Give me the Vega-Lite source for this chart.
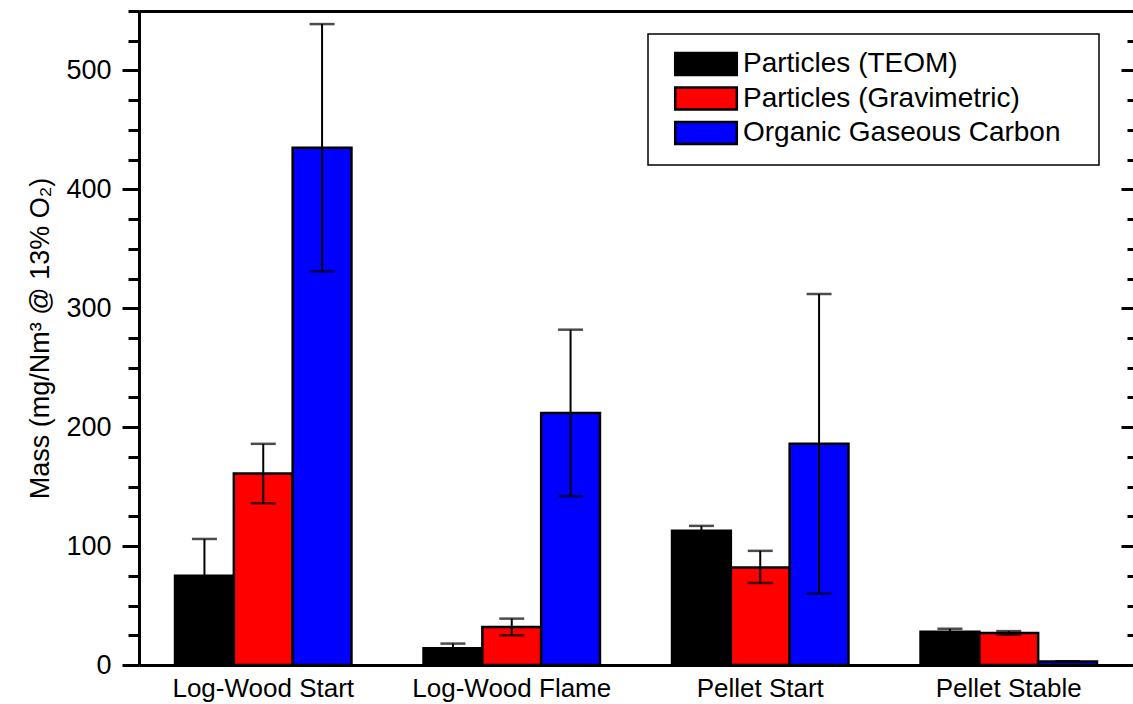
{
  "$schema": "https://vega.github.io/schema/vega-lite/v6.json",
  "width": 994,
  "height": 654,
  "autosize": {"type": "none"},
  "padding": {"left": 139, "top": 11, "right": 0, "bottom": 39},
  "background": "white",
  "config": {
    "view": {"stroke": null},
    "font": "Liberation Sans",
    "legend": {"strokeWidth": 1.5}
  },
  "data": {
    "values": [
      {"cond": "Log-Wood Start", "series": "Particles (TEOM)", "value": 75, "lo": 44, "hi": 106},
      {"cond": "Log-Wood Start", "series": "Particles (Gravimetric)", "value": 161, "lo": 136, "hi": 186},
      {"cond": "Log-Wood Start", "series": "Organic Gaseous Carbon", "value": 435, "lo": 331, "hi": 539},
      {"cond": "Log-Wood Flame", "series": "Particles (TEOM)", "value": 14, "lo": 10, "hi": 18},
      {"cond": "Log-Wood Flame", "series": "Particles (Gravimetric)", "value": 32, "lo": 25, "hi": 39},
      {"cond": "Log-Wood Flame", "series": "Organic Gaseous Carbon", "value": 212, "lo": 142, "hi": 282},
      {"cond": "Pellet Start", "series": "Particles (TEOM)", "value": 113, "lo": 109, "hi": 117},
      {"cond": "Pellet Start", "series": "Particles (Gravimetric)", "value": 82, "lo": 69, "hi": 96},
      {"cond": "Pellet Start", "series": "Organic Gaseous Carbon", "value": 186, "lo": 60, "hi": 312},
      {"cond": "Pellet Stable", "series": "Particles (TEOM)", "value": 28, "lo": 25.5, "hi": 30.5},
      {"cond": "Pellet Stable", "series": "Particles (Gravimetric)", "value": 27, "lo": 25.5, "hi": 28.5},
      {"cond": "Pellet Stable", "series": "Organic Gaseous Carbon", "value": 3, "lo": 3, "hi": 3}
    ]
  },
  "layer": [
    {
      "mark": {"type": "bar", "stroke": "black", "strokeWidth": 2.5},
      "encoding": {
        "x": {
          "field": "cond", "type": "nominal",
          "sort": ["Log-Wood Start", "Log-Wood Flame", "Pellet Start", "Pellet Stable"],
          "scale": {"paddingInner": 0.29, "paddingOuter": 0.145},
          "axis": {"orient": "bottom", "title": null, "labelAngle": 0, "labelFontSize": 26, "labelColor": "black", "labelLimit": 0, "ticks": false, "tickSize": 0, "domainWidth": 3, "domainColor": "black", "labelPadding": 10}
        },
        "xOffset": {
          "field": "series", "type": "nominal",
          "sort": ["Particles (TEOM)", "Particles (Gravimetric)", "Organic Gaseous Carbon"],
          "scale": {"paddingInner": 0, "paddingOuter": 0}
        },
        "y": {
          "field": "value", "type": "quantitative",
          "scale": {"domain": [0, 550], "nice": false},
          "axis": {
            "orient": "left",
            "values": [0, 25, 50, 75, 100, 125, 150, 175, 200, 225, 250, 275, 300, 325, 350, 375, 400, 425, 450, 475, 500, 525, 550],
            "labelExpr": "datum.value % 100 === 0 ? datum.label : ''",
            "tickSize": {"condition": {"test": "datum.value % 100 === 0", "value": 17}, "value": 11},
            "tickWidth": 3, "tickColor": "black",
            "domainWidth": 3, "domainColor": "black",
            "labelFontSize": 27, "labelColor": "black", "labelPadding": 11, "labelFlush": false, "labelOverlap": false,
            "grid": false,
            "title": "Mass (mg/Nm³ @ 13% O₂)",
            "titleFontSize": 27, "titleFontWeight": "normal", "titleColor": "black", "titlePadding": 11
          }
        },
        "color": {
          "field": "series", "type": "nominal",
          "scale": {"domain": ["Particles (TEOM)", "Particles (Gravimetric)", "Organic Gaseous Carbon"], "range": ["#000000", "#ff0000", "#0000ff"]},
          "legend": {
            "orient": "none", "legendX": 509, "legendY": 23,
            "title": "\u00a0", "titleOrient": "right", "titlePadding": 22, "titleFontSize": 8,
            "labelFontSize": 28, "labelColor": "black", "labelLimit": 0, "labelOffset": 23,
            "symbolType": "M-2.8,-1H2.8V1H-2.8Z", "symbolSize": 484, "symbolOffset": 28,
            "symbolStrokeColor": "black", "symbolStrokeWidth": 2.5, "symbolOpacity": 1,
            "strokeColor": "black", "padding": 16, "rowPadding": 2.5
          }
        }
      }
    },
    {
      "mark": {"type": "rule", "color": "black", "strokeWidth": 2},
      "encoding": {
        "x": {
          "field": "cond", "type": "nominal",
          "sort": ["Log-Wood Start", "Log-Wood Flame", "Pellet Start", "Pellet Stable"],
          "axis": {"orient": "top", "title": null, "labels": false, "ticks": false, "domainWidth": 3, "domainColor": "black"}
        },
        "xOffset": {
          "field": "series", "type": "nominal",
          "sort": ["Particles (TEOM)", "Particles (Gravimetric)", "Organic Gaseous Carbon"]
        },
        "y": {
          "field": "lo", "type": "quantitative",
          "scale": {"domain": [0, 550], "nice": false},
          "axis": {
            "orient": "right",
            "values": [0, 25, 50, 75, 100, 125, 150, 175, 200, 225, 250, 275, 300, 325, 350, 375, 400, 425, 450, 475, 500, 525, 550],
            "labels": false, "domain": false, "grid": false, "title": null,
            "tickSize": {"condition": {"test": "datum.value % 100 === 0", "value": -12}, "value": -6},
            "tickWidth": 3, "tickColor": "black"
          }
        },
        "y2": {"field": "hi"}
      }
    },
    {
      "mark": {"type": "tick", "color": "black", "thickness": 2.5, "size": 25},
      "encoding": {
        "x": {"field": "cond", "type": "nominal", "sort": ["Log-Wood Start", "Log-Wood Flame", "Pellet Start", "Pellet Stable"], "axis": null},
        "xOffset": {"field": "series", "type": "nominal", "sort": ["Particles (TEOM)", "Particles (Gravimetric)", "Organic Gaseous Carbon"]},
        "y": {"field": "lo", "type": "quantitative", "scale": {"domain": [0, 550], "nice": false}, "axis": null}
      }
    },
    {
      "mark": {"type": "tick", "color": "black", "thickness": 2.5, "size": 25},
      "encoding": {
        "x": {"field": "cond", "type": "nominal", "sort": ["Log-Wood Start", "Log-Wood Flame", "Pellet Start", "Pellet Stable"], "axis": null},
        "xOffset": {"field": "series", "type": "nominal", "sort": ["Particles (TEOM)", "Particles (Gravimetric)", "Organic Gaseous Carbon"]},
        "y": {"field": "hi", "type": "quantitative", "scale": {"domain": [0, 550], "nice": false}, "axis": null}
      }
    }
  ],
  "resolve": {"axis": {"x": "independent", "y": "independent"}}
}
